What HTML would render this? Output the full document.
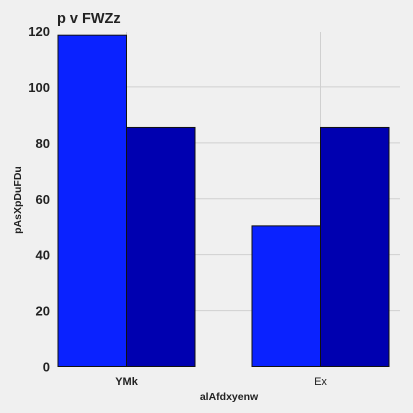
<!DOCTYPE html>
<html><head><meta charset="utf-8"><style>
html,body{margin:0;padding:0;background:#f0f0f0;}
svg{display:block;font-family:"Liberation Sans",sans-serif;}
</style></head><body>
<svg width="413" height="413" viewBox="0 0 413 413" id="chart">
<rect x="0" y="0" width="413" height="413" fill="#f0f0f0"/>
<text x="57" y="23" font-size="14.5" font-weight="bold" fill="#222">p v FWZz</text>
<g id="grid"></g>
<g id="bars"></g>
<g id="yticks"></g>
<g id="xticks"></g>
<text x="229" y="400" font-size="10.5" font-weight="bold" fill="#222" text-anchor="middle">alAfdxyenw</text>
<text transform="translate(21,200) rotate(-90)" font-size="10.5" font-weight="bold" fill="#222" text-anchor="middle">pAsXpDuFDu</text>
</svg>
<script>
const categories = ["YMk", "Ex"];
const series1 = [118.5, 50.3];
const series2 = [85.5, 85.5];
const yTicks = [0, 20, 40, 60, 80, 100, 120];
const NS = "http://www.w3.org/2000/svg";
const y = v => 366.5 - v * (335.5 / 120);
const x = i => 126.5 + 194 * i;
const bw = 68.5;
function mk(tag, attrs, parent) {
  const e = document.createElementNS(NS, tag);
  for (const k in attrs) e.setAttribute(k, attrs[k]);
  document.getElementById(parent).appendChild(e);
  return e;
}
yTicks.forEach(t => {
  if (t > 0 && t < 120) {
    const l = mk("line", {x1: 58, x2: 400, y1: y(t), y2: y(t), stroke: "#d0d0d0", "stroke-width": 1}, "grid");
    
    
  }
  const tx = mk("text", {x: 50, y: y(t) + 5, "font-size": 13, "font-weight": "bold", fill: "#222", "text-anchor": "end"}, "yticks");
  tx.textContent = t;
  
  
});
categories.forEach((c, i) => {
  const g = mk("line", {x1: x(i), x2: x(i), y1: 32, y2: 366.5, stroke: "#d0d0d0", "stroke-width": 1}, "grid");
  
  
});
categories.forEach((c, i) => {
  const b1 = mk("rect", {x: x(i) - bw, y: y(series1[i]), width: bw, height: y(0) - y(series1[i]), fill: "#0a22ff", stroke: "#111", "stroke-width": 1}, "bars");
  
  
  const b2 = mk("rect", {x: x(i), y: y(series2[i]), width: bw, height: y(0) - y(series2[i]), fill: "#0000b0", stroke: "#111", "stroke-width": 1}, "bars");
  
  
  const t = mk("text", {x: x(i), y: 385, "font-size": 11, "font-weight": i === 0 ? "bold" : "normal", fill: "#222", "text-anchor": "middle"}, "xticks");
  t.textContent = c;
  
  
});
</script>
</body></html>
